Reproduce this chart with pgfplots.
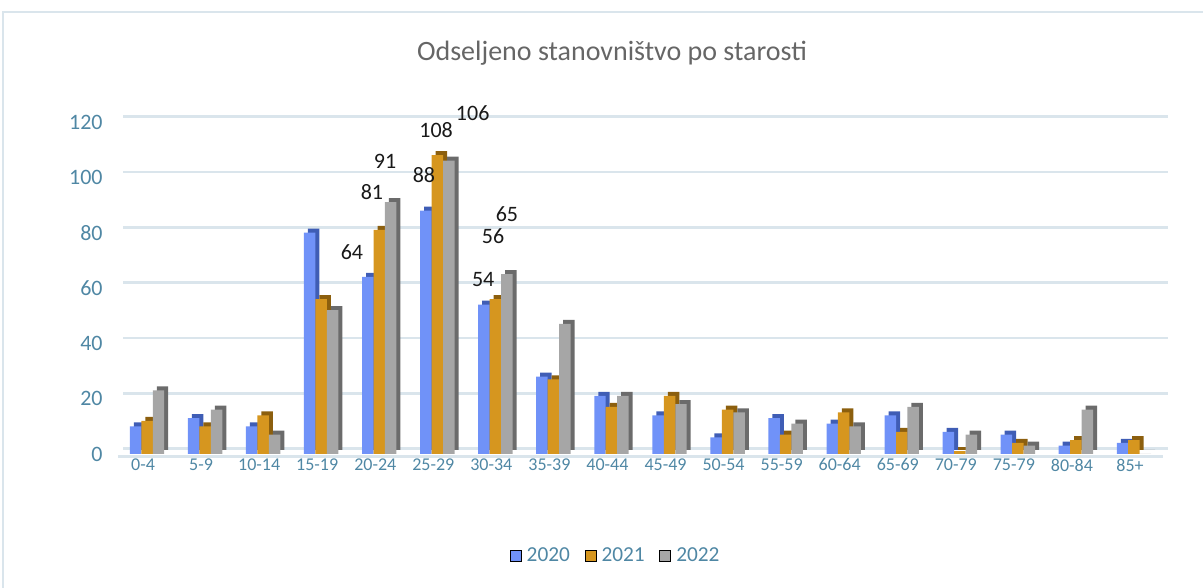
\documentclass[border=0pt]{standalone}
\usepackage{pgfplots}
\usepackage{pgfplotstable}
\pgfplotsset{compat=1.18}
\usepackage{fontspec}
\setmainfont{Carlito}
\definecolor{c20}{HTML}{7092F8}
\definecolor{c20d}{HTML}{3F5DB5}
\definecolor{c21}{HTML}{D6961F}
\definecolor{c21d}{HTML}{8C5F0E}
\definecolor{c22}{HTML}{A6A6A6}
\definecolor{c22d}{HTML}{6B6B6B}
\definecolor{gridc}{HTML}{DAE5EC}
\definecolor{tickc}{HTML}{4F87A4}
\definecolor{titlec}{HTML}{666666}

\pgfplotstableread{
x a b c
0 10 12 23
1 13 10 16
2 10 14 7
3 80 56 52
4 64 81 91
5 88 108 106
6 54 56 65
7 28 27 47
8 21 17 21
9 14 21 18
10 6 16 15
11 13 7 11
12 11 15 10
13 14 8 17
14 8 1 7
15 7 4 3
16 3 5 16
17 4 5 0
}\data

\begin{document}
\begin{tikzpicture}[x=0.75pt,y=0.75pt]
\path[use as bounding box] (0,0) rectangle (1203,588);
\draw[gridc, line width=1.5pt] (3,0) -- (3,576) -- (1203,576);
\node[titlec, font=\fontsize{21}{25}\selectfont] at (612,535) {Odseljeno stanovništvo po starosti};
\begin{axis}[
  at={(88.5pt,100.5pt)}, anchor=south west,
  scale only axis, width=783.75pt, height=249pt,
  xmin=-0.5, xmax=17.5, ymin=0, ymax=120,
  clip=false,
  axis x line*=bottom, axis y line*=left,
  y axis line style={draw=none},
  x axis line style={gridc, line width=1.8pt, -, yshift=-2pt},
  tick style={draw=none}, major tick length=0pt,
  ytick={0,20,...,120},
  ymajorgrids,
  major grid style={gridc, line width=1.8pt, xshift=4pt, yshift=4pt},
  xtick={0,...,17},
  xticklabels={0-4,5-9,10-14,15-19,20-24,25-29,30-34,35-39,40-44,45-49,50-54,55-59,60-64,65-69,70-79,75-79,80-84,85+},
  /pgf/number format/assume math mode=true,
  yticklabel style={tickc, font=\fontsize{16.5}{18}\selectfont, xshift=-8pt},
  xticklabel style={tickc, font=\fontsize{13.5}{15}\selectfont, xshift=-3pt},
  legend image code/.code={\fill[#1] (0pt,-4pt) rectangle (8.25pt,4.25pt);},
  legend style={at={(0.4766,-0.307)}, anchor=center, draw=none, fill=none,
    legend columns=3, font=\fontsize{16}{18}\selectfont, text=tickc,
    /tikz/every odd column/.append style={column sep=2pt},
    /tikz/every even column/.append style={column sep=9pt}},
]
\addlegendimage{fill=c20}
\addlegendimage{fill=c21}
\addlegendimage{fill=c22}
\addplot[ybar, forget plot, bar width=8.6pt, bar shift=-8.6pt, fill=c20, draw=none,
  preaction={fill=c20d, transform canvas={shift={(3pt,3pt)}}}] table[x=x,y=a]{\data};
\addplot[ybar, forget plot, bar width=8.6pt, bar shift=0pt, fill=c21, draw=none,
  preaction={fill=c21d, transform canvas={shift={(3pt,3pt)}}}] table[x=x,y=b]{\data};
\addplot[ybar, forget plot, bar width=8.6pt, bar shift=8.6pt, fill=c22, draw=none,
  preaction={fill=c22d, transform canvas={shift={(3pt,3pt)}}}] table[x=x,y=c]{\data};
\legend{2020,2021,2022}
\begin{scope}[every node/.style={font=\fontsize{16.5}{18}\selectfont, text=black!90}]
\node at (axis cs:3.53,73) {64};
\node at (axis cs:3.875,94.7) {81};
\node at (axis cs:4.10,105.9) {91};
\node at (axis cs:4.77,100.8) {88};
\node at (axis cs:4.98,117.1) {108};
\node at (axis cs:5.61,123.2) {106};
\node at (axis cs:5.79,62.9) {54};
\node at (axis cs:5.96,78.8) {56};
\node at (axis cs:6.20,86.7) {65};
\end{scope}
\end{axis}
\end{tikzpicture}
\end{document}
